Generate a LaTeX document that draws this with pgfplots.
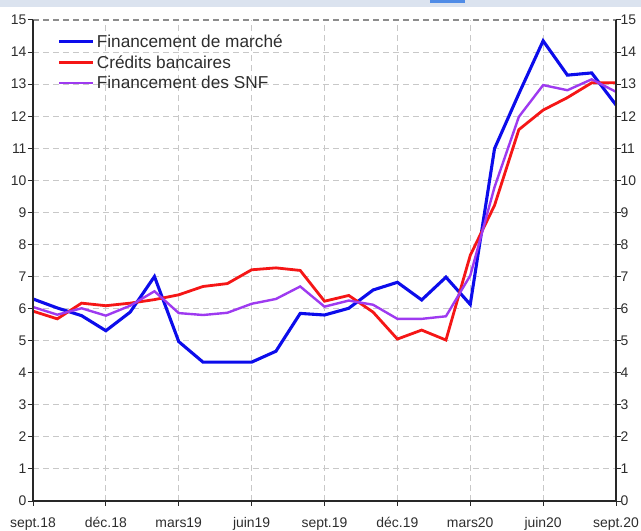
\documentclass[border=0pt]{standalone}
\usepackage{fontspec}
\setmainfont{Liberation Sans}
\usepackage{pgfplots}
\pgfplotsset{compat=1.18}
\definecolor{cblue}{RGB}{12,12,235}
\definecolor{cred}{RGB}{245,22,22}
\definecolor{cpurple}{RGB}{158,58,240}
\definecolor{band}{RGB}{219,227,239}
\definecolor{icon}{RGB}{80,140,230}
\definecolor{gridgray}{RGB}{200,200,200}
\definecolor{topgray}{RGB}{140,140,140}
\definecolor{txt}{RGB}{45,45,45}
\definecolor{axcol}{RGB}{40,40,40}
\begin{document}
\begin{tikzpicture}
\path[use as bounding box] (0bp,0bp) rectangle (641bp,531bp);
\fill[band] (0bp,524bp) rectangle (641bp,531bp);
\fill[icon] (430bp,527.5bp) rectangle (465bp,531bp);
\begin{axis}[
  scale only axis, width=583bp, height=481bp,
  at={(33bp,30bp)}, anchor=south west,
  xmin=0, xmax=24, ymin=0, ymax=15,
  clip=false,
  axis x line*=bottom, axis y line*=left,
  x axis line style={draw=axcol, line width=1.6bp},
  y axis line style={draw=axcol, line width=1.6bp},
  xtick={0,3,...,24},
  xticklabels={sept.18,déc.18,mars19,juin19,sept.19,déc.19,mars20,juin20,sept.20},
  ytick={0,1,...,15},
  grid=major, major grid style={gridgray, line width=1.1bp, dash pattern=on 6bp off 4bp},
  tick align=outside, major tick length=5bp,
  major tick style={draw=axcol, line width=1bp},
  /pgf/number format/assume math mode=true,
  tick label style={font=\fontsize{14}{16}\selectfont, text=txt},
  xticklabel style={yshift=-8bp},
  yticklabel style={xshift=2bp},
  legend style={at={(0.037,0.978)}, anchor=north west, draw=none, fill=none,
    font=\fontsize{17.3}{20}\selectfont, text=txt, row sep=2.6bp},
  legend cell align=left,
  legend image code/.code={\draw[#1] (0bp,0bp) -- (34bp,0bp);},
]
\draw[topgray, line width=1.6bp, dash pattern=on 6bp off 4bp] (rel axis cs:0,1) -- (rel axis cs:1,1);
\addplot[cblue, line width=3.1bp] coordinates {
(0,6.30) (1,6.02) (2,5.78) (3,5.31) (4,5.89) (5,7.00) (6,4.97) (7,4.33) (8,4.33)
(9,4.33) (10,4.67) (11,5.85) (12,5.80) (13,6.01) (14,6.58) (15,6.82) (16,6.27)
(17,6.98) (18,6.13) (19,10.99) (20,12.70) (21,14.35) (22,13.28) (23,13.35) (24,12.35)};
\addlegendentry{Financement de marché}
\addplot[cred, line width=2.8bp] coordinates {
(0,5.92) (1,5.68) (2,6.17) (3,6.09) (4,6.17) (5,6.28) (6,6.43) (7,6.69) (8,6.78)
(9,7.21) (10,7.27) (11,7.19) (12,6.23) (13,6.41) (14,5.89) (15,5.05) (16,5.33)
(17,5.02) (18,7.66) (19,9.22) (20,11.58) (21,12.19) (22,12.58) (23,13.04) (24,13.04)};
\addlegendentry{Crédits bancaires}
\addplot[cpurple, line width=2.4bp] coordinates {
(0,6.05) (1,5.81) (2,6.01) (3,5.78) (4,6.09) (5,6.54) (6,5.86) (7,5.80) (8,5.87)
(9,6.15) (10,6.30) (11,6.69) (12,6.06) (13,6.25) (14,6.12) (15,5.68) (16,5.68)
(17,5.76) (18,7.03) (19,9.79) (20,11.98) (21,12.97) (22,12.81) (23,13.15) (24,12.76)};
\addlegendentry{Financement des SNF}
\draw[axcol, line width=2bp] (rel axis cs:0,1) -- (rel axis cs:0,0) -- (rel axis cs:1,0) -- (rel axis cs:1,1);
\end{axis}
\begin{axis}[
  scale only axis, width=583bp, height=481bp,
  at={(33bp,30bp)}, anchor=south west,
  xmin=0, xmax=24, ymin=0, ymax=15,
  axis x line=none, axis y line*=right,
  y axis line style={draw=axcol, line width=1.6bp},
  ytick={0,1,...,15},
  major tick length=5bp, tick align=outside,
  major tick style={draw=axcol, line width=1bp},
  /pgf/number format/assume math mode=true,
  yticklabel style={font=\fontsize{14}{16}\selectfont, text=txt, xshift=-4bp},
]
\addplot[draw=none] coordinates {(0,0)};
\end{axis}
\end{tikzpicture}
\end{document}
